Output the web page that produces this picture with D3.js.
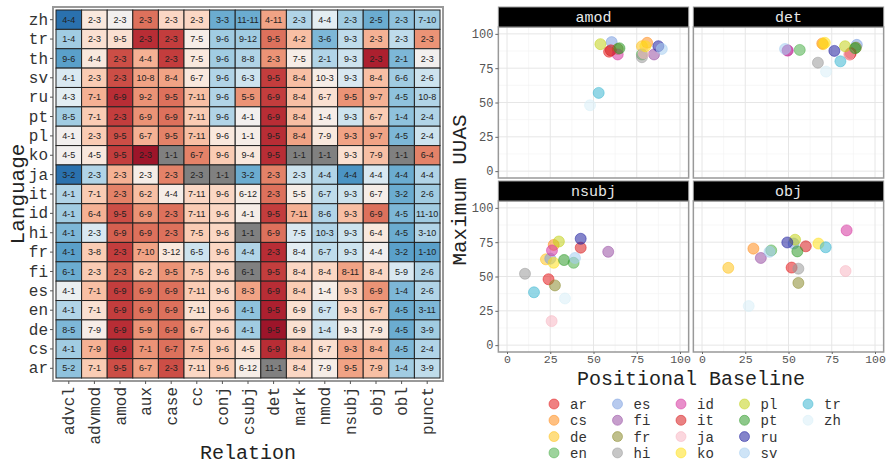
<!DOCTYPE html>
<html>
<head>
<meta charset="utf-8">
<script src="https://d3js.org/d3.v7.min.js"></script>
<style>
  body { margin: 0; background: #fff; }
  text { font-family: "Liberation Mono", "DejaVu Sans Mono", monospace; }
</style>
</head>
<body>
<svg id="chart" width="890" height="466"></svg>
<script>
// ---- heatmap data ----
var languages = ["zh","tr","th","sv","ru","pt","pl","ko","ja","it","id","hi","fr","fi","es","en","de","cs","ar"];
var relations = ["advcl","advmod","amod","aux","case","cc","conj","csubj","det","mark","nmod","nsubj","obj","obl","punct"];

// cell texts, one string per language row
var cellLabels = [
  "4-4 2-3 2-3 2-3 2-3 2-3 3-3 11-11 4-11 2-3 4-4 2-3 2-5 2-3 7-10",
  "1-4 2-3 9-5 2-3 2-3 7-5 9-6 9-12 9-5 4-2 3-6 9-3 2-3 2-3 2-3",
  "9-6 4-4 2-3 4-4 2-3 7-5 9-6 8-8 2-3 7-5 2-1 9-3 2-3 2-1 2-3",
  "4-1 2-3 2-3 10-8 8-4 6-7 9-6 6-3 9-5 8-4 10-3 9-3 8-4 6-6 2-6",
  "4-3 7-1 6-9 9-2 9-5 7-11 9-6 5-5 6-9 8-4 6-7 9-5 9-7 4-5 10-8",
  "8-5 7-1 2-3 6-9 6-9 7-11 9-6 4-1 6-9 8-4 1-4 9-3 6-7 1-4 2-4",
  "4-1 2-3 9-5 6-7 9-5 7-11 9-6 1-1 9-5 8-4 7-9 9-3 9-7 4-5 2-4",
  "4-5 4-5 9-5 2-3 1-1 6-7 9-6 9-4 9-5 1-1 1-1 9-3 7-9 1-1 6-4",
  "3-2 2-3 2-3 2-3 2-3 2-3 1-1 3-2 2-3 2-3 4-4 4-4 4-4 4-4 4-4",
  "4-1 7-1 2-3 6-2 4-4 7-11 9-6 6-12 2-3 5-5 6-7 9-3 6-7 3-2 2-6",
  "4-1 6-4 9-5 6-9 2-3 7-11 9-6 4-1 9-5 7-11 8-6 9-3 6-9 4-5 11-10",
  "4-1 2-3 6-9 6-9 2-3 7-5 9-6 1-1 6-9 7-5 10-3 9-3 6-4 4-5 3-10",
  "4-1 3-8 2-3 7-10 3-12 6-5 9-6 4-4 2-3 8-4 6-7 9-3 4-4 3-2 1-10",
  "6-1 2-3 2-3 6-2 9-5 7-5 9-6 6-1 9-5 8-4 8-4 8-11 8-4 5-9 2-6",
  "4-1 7-1 6-9 6-9 6-9 7-11 9-6 8-3 6-9 8-4 1-4 9-3 6-9 1-4 2-6",
  "4-1 7-1 6-9 6-9 6-9 7-11 9-6 4-1 9-5 6-9 6-7 9-3 6-7 4-5 3-11",
  "8-5 7-9 6-9 5-9 6-9 6-7 9-6 4-1 9-5 6-9 1-4 9-3 7-9 4-5 3-9",
  "4-1 7-9 6-9 7-1 6-7 7-5 9-6 4-5 6-9 8-4 6-7 9-3 8-4 4-5 2-4",
  "5-2 7-1 9-5 6-7 2-3 7-11 9-6 6-12 11-1 8-4 7-9 9-5 7-9 1-4 3-9"
];

// fill score per cell (-1 blue .. +1 red), null = grey
var cellScores = [
  [-0.75, 0.1, 0.0, 0.55, 0.2, 0.2, -0.5, -0.5, 0.4, -0.3, -0.1, -0.35, -0.5, -0.4, -0.35],
  [-0.35, 0.15, 0.15, 0.75, 0.7, 0.05, -0.35, -0.35, 0.55, 0.3, -0.45, -0.25, 0.35, -0.25, 0.45],
  [-0.55, 0.1, 0.65, 0.35, 0.7, 0.1, -0.35, -0.3, 0.45, 0.05, -0.3, -0.2, 0.8, -0.45, 0.0],
  [-0.15, 0.25, 0.65, 0.4, 0.4, 0.1, -0.3, -0.2, 0.7, 0.3, 0.05, -0.15, 0.3, -0.35, -0.2],
  [-0.1, 0.35, 0.75, 0.45, 0.55, 0.3, -0.3, 0.45, 0.7, 0.3, 0.15, 0.45, 0.35, -0.4, -0.3],
  [-0.35, 0.25, 0.7, 0.45, 0.55, 0.25, -0.3, 0.0, 0.75, 0.3, 0.05, -0.2, 0.25, -0.4, -0.3],
  [0.0, 0.25, 0.65, 0.35, 0.5, 0.3, 0.1, 0.05, 0.75, 0.4, 0.1, 0.4, 0.4, -0.45, -0.2],
  [0.0, 0.1, 0.7, 0.85, null, 0.5, 0.25, 0.1, 0.75, null, null, 0.15, 0.3, null, 0.5],
  [-0.75, -0.3, 0.35, 0.05, 0.5, null, null, -0.5, 0.5, -0.2, -0.3, -0.6, -0.15, -0.5, -0.3],
  [-0.3, 0.25, 0.5, 0.3, 0.05, 0.2, 0.2, 0.05, 0.55, 0.05, -0.25, -0.2, 0.05, -0.5, -0.35],
  [-0.35, 0.35, 0.65, 0.45, 0.55, 0.25, 0.2, 0.05, 0.7, 0.35, -0.3, 0.3, 0.55, -0.45, -0.35],
  [-0.45, -0.15, 0.6, 0.55, 0.55, 0.25, 0.2, null, 0.55, -0.15, -0.3, -0.2, 0.1, -0.5, -0.3],
  [-0.55, 0.25, 0.7, 0.4, 0.1, -0.2, 0.2, -0.3, 0.75, -0.1, -0.25, -0.2, 0.0, -0.55, -0.55],
  [-0.5, 0.25, 0.6, 0.3, 0.45, 0.25, 0.2, null, 0.7, 0.2, 0.2, 0.4, 0.2, -0.15, -0.3],
  [-0.05, 0.3, 0.7, 0.55, 0.55, 0.25, 0.2, 0.4, 0.75, 0.25, 0.05, 0.25, 0.45, -0.45, -0.3],
  [-0.3, 0.15, 0.7, 0.55, 0.55, 0.15, 0.2, -0.4, 0.8, 0.15, -0.2, 0.2, 0.25, -0.5, -0.45],
  [-0.45, 0.05, 0.75, 0.45, 0.55, 0.25, 0.2, -0.35, 0.85, 0.15, -0.2, 0.05, 0.1, -0.5, -0.35],
  [-0.35, 0.35, 0.75, 0.45, 0.55, 0.3, 0.25, 0.15, 0.75, 0.3, 0.15, 0.4, 0.35, -0.45, -0.3],
  [-0.4, 0.25, 0.65, 0.4, 0.65, 0.2, 0.25, 0.05, null, 0.2, 0.05, 0.4, 0.3, -0.35, -0.25]
];

// ---- scatter data ----
var facets = ["amod", "det", "nsubj", "obj"];
var legendLangs = ["ar","cs","de","en","es","fi","fr","hi","id","it","ja","ko","pl","pt","ru","sv","tr","zh"];
var langColors = ["#e41a1c","#ff8c1a","#ffc21a","#4daf4a","#7b9fe0","#984ea3","#8b8b2e","#999999","#d6339e",
                  "#d7191c","#f7b6c2","#ffe01a","#c2d21a","#2f9a2a","#1f1f9f","#a6cdf0","#3db7d1","#d8eff7"];

// positional baseline (x) and max UUAS (y), in legendLangs order
var amodBase = [59, 81, 78, 78, 60.5, 85, 64, 78, 64, 60, 79, 80, 54, 65, 87.5, 89.5, 53, 48];
var amodUuas = [87, 93.5, 91, 85, 94, 85, 89, 83, 85, 88, 86, 91, 92.5, 89.5, 91, 89, 57, 48];
var detBase  = [85.5, 69.5, 70, 56.5, 89.5, 49.5, 89, 67, 49.5, 86, 85, 71, 82.7, 88.5, 76.5, 48, 80, 71.7];
var detUuas  = [85, 93, 92.5, 88.3, 92, 88, 90, 79, 87.8, 86, 85, 93.5, 91, 89.6, 87.6, 89, 80, 72.5];
var nsubjBase = [24, 27, 22.5, 38.5, 25, 58.5, 27.7, 10.4, 26, 42.6, 25.8, 27, 30, 33, 42.6, 39.3, 15.6, 33.5];
var nsubjUuas = [48, 73, 62.5, 60, 63, 68, 43.5, 52, 69, 71, 17.5, 60, 75.5, 62, 77.5, 63.5, 38.5, 34];
var objBase = [51.8, 29.7, 15.2, 40, 53, 34, 55.7, 55.7, 83.6, 60, 83, 67.3, 53.8, 55.1, 49.3, 39, 71.5, 27];
var objUuas = [56.5, 70.3, 56.3, 69, 74, 63.5, 45.3, 55.7, 83.6, 72, 54, 74, 76.8, 68.3, 74.8, 68, 71.3, 28.5];
var facetBase = [amodBase, detBase, nsubjBase, objBase];
var facetUuas = [amodUuas, detUuas, nsubjUuas, objUuas];
var uuasTicks = [0, 25, 50, 75, 100];

var svg = d3.select("#chart");

// ================= heatmap =================
var hm = { left: 56, right: 440, top: 10, bottom: 378 };
var xBand = d3.scaleBand().domain(relations).range([hm.left, hm.right]);
var yBand = d3.scaleBand().domain(languages).range([hm.top, hm.bottom]);
var fillScale = function (v) {
  if (v === null) return "#808080";
  return d3.interpolateRdBu((1 - v) / 2);
};

var cells = [];
languages.forEach(function (lang, i) {
  var labs = cellLabels[i].split(" ");
  relations.forEach(function (rel, j) {
    cells.push({ lang: lang, rel: rel, label: labs[j], score: cellScores[i][j] });
  });
});

svg.append("rect")
  .attr("x", hm.left - 3).attr("y", hm.top - 3)
  .attr("width", hm.right - hm.left + 6).attr("height", hm.bottom - hm.top + 6)
  .attr("fill", "#fff").attr("stroke", "#999").attr("stroke-width", 2);

var cellG = svg.append("g");
cellG.selectAll("rect").data(cells).enter().append("rect")
  .attr("x", function (d) { return xBand(d.rel); })
  .attr("y", function (d) { return yBand(d.lang); })
  .attr("width", xBand.bandwidth())
  .attr("height", yBand.bandwidth())
  .attr("fill", function (d) { return fillScale(d.score); })
  .attr("stroke", "#222").attr("stroke-width", 1);
cellG.selectAll("text").data(cells).enter().append("text")
  .attr("x", function (d) { return xBand(d.rel) + xBand.bandwidth() / 2; })
  .attr("y", function (d) { return yBand(d.lang) + yBand.bandwidth() / 2; })
  .attr("dy", "0.35em")
  .attr("text-anchor", "middle")
  .style("font-family", "'Liberation Sans', Arial, sans-serif")
  .style("font-size", "9px")
  .attr("fill", "#222")
  .text(function (d) { return d.label; });

// axes
var hmY = svg.append("g").attr("transform", "translate(" + (hm.left - 3) + ",0)")
  .call(d3.axisLeft(yBand).tickSize(3).tickPadding(2));
hmY.select(".domain").remove();
hmY.selectAll("line").attr("stroke", "#555");
hmY.selectAll("text").style("font-size", "16px").attr("fill", "#333");

var hmX = svg.append("g").attr("transform", "translate(0," + (hm.bottom + 3) + ")")
  .call(d3.axisBottom(xBand).tickSize(3));
hmX.select(".domain").remove();
hmX.selectAll("line").attr("stroke", "#555");
hmX.selectAll("text")
  .attr("transform", "rotate(-90)")
  .attr("x", -6).attr("y", 0).attr("dy", "0.35em")
  .attr("text-anchor", "end")
  .style("font-size", "16px").attr("fill", "#333");

svg.append("text")
  .attr("transform", "translate(24," + ((hm.top + hm.bottom) / 2) + ") rotate(-90)")
  .attr("text-anchor", "middle")
  .style("font-size", "21px").attr("fill", "#222")
  .text("Language");
svg.append("text")
  .attr("x", (hm.left + hm.right) / 2).attr("y", 459)
  .attr("text-anchor", "middle")
  .style("font-size", "20px").attr("fill", "#222")
  .text("Relation");

// ================= facets =================
var facetLayout = [
  { col: [498.35, 688.65], row: [178, 27] },
  { col: [693.35, 883.65], row: [178, 27] },
  { col: [498.35, 688.65], row: [352, 201] },
  { col: [693.35, 883.65], row: [352, 201] }
];

facets.forEach(function (name, f) {
  var lay = facetLayout[f];
  var x = d3.scaleLinear().domain([-5, 105]).range(lay.col);
  var y = d3.scaleLinear().domain([-5, 105]).range(lay.row);
  var g = svg.append("g");

  // minor + major grid
  var minor = [12.5, 37.5, 62.5, 87.5];
  g.selectAll(".vminor").data(minor).enter().append("line")
    .attr("x1", x).attr("x2", x).attr("y1", lay.row[0]).attr("y2", lay.row[1])
    .attr("stroke", "#f2f2f2").attr("stroke-width", 0.6);
  g.selectAll(".hminor").data(minor).enter().append("line")
    .attr("y1", y).attr("y2", y).attr("x1", lay.col[0]).attr("x2", lay.col[1])
    .attr("stroke", "#f2f2f2").attr("stroke-width", 0.6);
  g.selectAll(".vmajor").data(uuasTicks).enter().append("line")
    .attr("x1", x).attr("x2", x).attr("y1", lay.row[0]).attr("y2", lay.row[1])
    .attr("stroke", "#e6e6e6").attr("stroke-width", 1);
  g.selectAll(".hmajor").data(uuasTicks).enter().append("line")
    .attr("y1", y).attr("y2", y).attr("x1", lay.col[0]).attr("x2", lay.col[1])
    .attr("stroke", "#e6e6e6").attr("stroke-width", 1);

  // points
  var pts = legendLangs.map(function (l, i) {
    return { lang: l, color: langColors[i], bx: facetBase[f][i], uy: facetUuas[f][i] };
  });
  g.selectAll("circle").data(pts).enter().append("circle")
    .attr("cx", function (d) { return x(d.bx); })
    .attr("cy", function (d) { return y(d.uy); })
    .attr("r", 5.5)
    .attr("fill", function (d) { return d.color; })
    .attr("fill-opacity", 0.55)
    .attr("stroke", function (d) { return d.color; })
    .attr("stroke-opacity", 0.5);

  // panel border
  g.append("rect")
    .attr("x", lay.col[0]).attr("y", lay.row[1])
    .attr("width", lay.col[1] - lay.col[0]).attr("height", lay.row[0] - lay.row[1])
    .attr("fill", "none").attr("stroke", "#999").attr("stroke-width", 1.5);

  // strip
  g.append("rect")
    .attr("x", lay.col[0]).attr("y", lay.row[1] - 20)
    .attr("width", lay.col[1] - lay.col[0]).attr("height", 20)
    .attr("fill", "#000").attr("stroke", "#999").attr("stroke-width", 1);
  g.append("text")
    .attr("x", (lay.col[0] + lay.col[1]) / 2).attr("y", lay.row[1] - 10)
    .attr("dy", "0.35em").attr("text-anchor", "middle")
    .style("font-size", "15px").attr("fill", "#e8e8e8")
    .text(name);

  // y axis on left column
  if (f % 2 === 0) {
    var ya = g.append("g").attr("transform", "translate(" + lay.col[0] + ",0)")
      .call(d3.axisLeft(y).tickValues(uuasTicks).tickSize(3).tickPadding(2));
    ya.select(".domain").remove();
    ya.selectAll("line").attr("stroke", "#666");
    ya.selectAll("text").style("font-size", "12px").attr("fill", "#555");
  }
  // x axis on bottom row
  if (f >= 2) {
    var xa = g.append("g").attr("transform", "translate(0," + lay.row[0] + ")")
      .call(d3.axisBottom(x).tickValues(uuasTicks).tickSize(2).tickPadding(1));
    xa.select(".domain").remove();
    xa.selectAll("line").attr("stroke", "#666");
    xa.selectAll("text").style("font-size", "11.5px").attr("fill", "#555");
  }
});

svg.append("text")
  .attr("transform", "translate(466,190) rotate(-90)")
  .attr("text-anchor", "middle")
  .style("font-size", "21px").attr("fill", "#222")
  .text("Maximum UUAS");
svg.append("text")
  .attr("x", 691).attr("y", 385)
  .attr("text-anchor", "middle")
  .style("font-size", "20px").attr("fill", "#222")
  .text("Positional Baseline");

// ================= legend =================
var legend = svg.append("g");
var legendItems = legendLangs.map(function (l, i) {
  return { lang: l, color: langColors[i], col: Math.floor(i / 4), row: i % 4 };
});
var leg = legend.selectAll("g").data(legendItems).enter().append("g")
  .attr("transform", function (d) {
    return "translate(" + (554 + d.col * 63.5) + "," + (404 + d.row * 16.3) + ")";
  });
leg.append("circle").attr("r", 5)
  .attr("fill", function (d) { return d.color; })
  .attr("fill-opacity", 0.55)
  .attr("stroke", function (d) { return d.color; })
  .attr("stroke-opacity", 0.5);
leg.append("text")
  .attr("x", 16).attr("dy", "0.35em")
  .style("font-size", "14px").attr("fill", "#333")
  .text(function (d) { return d.lang; });
</script>
</body>
</html>
